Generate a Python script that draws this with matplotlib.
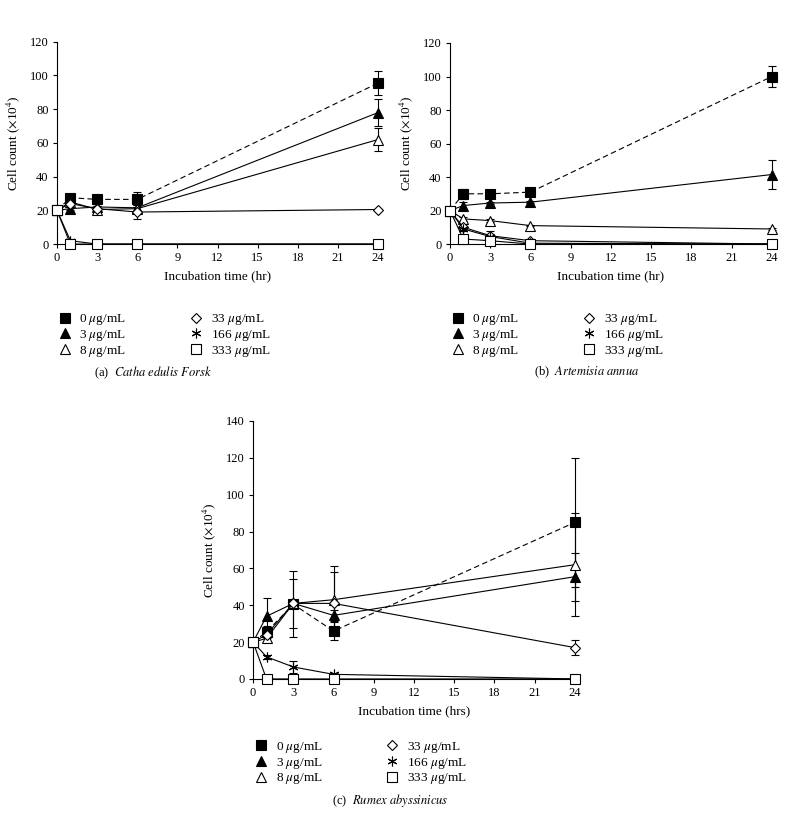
import matplotlib
matplotlib.use("Agg")
import matplotlib.pyplot as plt
from matplotlib.lines import Line2D

plt.rcParams['font.family'] = ['Liberation Serif', 'DejaVu Serif']
plt.rcParams['mathtext.fontset'] = 'stix'
plt.rcParams['font.size'] = 9

# incubation times (hr)
times = [0, 1, 3, 6, 24]
conc_labels = [r"0 $\mu$g/mL", r"3 $\mu$g/mL", r"8 $\mu$g/mL",
               r"33 $\mu$g/mL", r"166 $\mu$g/mL", r"333 $\mu$g/mL"]

# (a) Catha edulis Forsk
a_0 = [20, 27.5, 26.5, 26.5, 95.5]
a_3 = [20, 21, 22, 21.5, 78]
a_8 = [20, 25, 20.5, 21, 62]
a_33 = [20, 24, 21, 19, 20.5]
a_166 = [20, 2, 0, 0, 0]
a_333 = [20, 0, 0, 0, 0]
a_err_0 = [0, 1.5, 1.5, 4.5, 7]
a_err_3 = [0, 1, 1.5, 2, 8]
a_err_8 = [0, 1.5, 2, 2, 7]
a_err_33 = [0, 1, 1.5, 4, 0.5]
a_err_166 = [0, 0.5, 0.5, 0.5, 0]
a_err_333 = [0, 0, 0, 0, 0]

# (b) Artemisia annua
b_0 = [20, 30, 30, 31, 100]
b_3 = [20, 23, 24.5, 25, 41.5]
b_8 = [20, 15, 14, 11, 9]
b_33 = [20, 10, 5, 2, 0]
b_166 = [20, 9, 4.5, 0.5, 0]
b_333 = [20, 3, 2, 0, 0]
b_err_0 = [0, 3, 1, 2.5, 6.5]
b_err_3 = [0, 2, 0.5, 0.5, 8.5]
b_err_8 = [0, 1, 1, 0.5, 0.5]
b_err_33 = [0, 1, 1, 0.5, 0]
b_err_166 = [0, 1, 3, 0.5, 0]
b_err_333 = [0, 0.5, 0.5, 0, 0]

# (c) Rumex abyssinicus
c_0 = [20, 25.5, 40.5, 26, 85]
c_3 = [20, 34, 41, 34.5, 55.5]
c_8 = [20, 22, 41, 43, 62]
c_33 = [20, 24, 41, 41, 17]
c_166 = [20, 12, 6.5, 2.5, 0]
c_333 = [20, 0, 0, 0, 0]
c_err_0 = [0, 3, 18, 5, 35]
c_err_3 = [0, 10, 13.5, 3, 13]
c_err_8 = [0, 2, 2, 18.5, 28]
c_err_33 = [0, 2, 2, 17, 4]
c_err_166 = [0, 1, 3.5, 1, 0]
c_err_333 = [0, 0, 0, 0, 0]

# marker styles for 0, 3, 8, 33, 166, 333 ug/mL
styles = [
    dict(marker='s', mfc='black', ls='--', ms=7),
    dict(marker='^', mfc='black', ls='-', ms=7),
    dict(marker='^', mfc='white', ls='-', ms=7),
    dict(marker='D', mfc='white', ls='-', ms=5.5),
    dict(marker=(6, 2, 0), mfc='black', ls='-', ms=7),
    dict(marker='s', mfc='white', ls='-', ms=7),
]


def draw_panel(fig, rect, series, errs, ymax, xlabel, caption, leg_y, cap_x):
    ax = fig.add_axes(rect)
    for vals, err, st in zip(series, errs, styles):
        lines = ax.errorbar(times, vals, yerr=err, color='black', mec='black',
                            lw=0.8, mew=0.8, capsize=3, elinewidth=0.8,
                            clip_on=False, zorder=3, **st)
        if st['ls'] == '--':
            lines[0].set_dashes((5, 3))
    ax.set_xlim(0, 24)
    ax.set_ylim(0, ymax)
    ax.set_xticks(range(0, 25, 3))
    ax.set_yticks(range(0, ymax + 1, 20))
    for s in ['top', 'right']:
        ax.spines[s].set_visible(False)
    ax.spines['left'].set_linewidth(0.8)
    ax.spines['bottom'].set_linewidth(0.8)
    ax.tick_params(direction='out', length=3, width=0.8, labelsize=9, pad=3)
    ax.set_xlabel(xlabel, fontsize=9.5, labelpad=4)
    ax.set_ylabel(r"Cell count ($\times$10$^4$)", fontsize=9.5, labelpad=6)

    handles = [Line2D([], [], color='black', mec='black', linestyle='none',
                      marker=st['marker'], mfc=st['mfc'], ms=st['ms'], mew=0.8)
               for st in styles]
    fig.legend(handles, conc_labels, ncol=2, frameon=False, fontsize=9.5,
               loc='upper left', bbox_to_anchor=(rect[0] - 0.005, leg_y),
               handlelength=1.0, handletextpad=0.6, columnspacing=4.8,
               labelspacing=0.05, borderaxespad=0)
    fig.text(cap_x, leg_y - 0.07, caption, ha='center', va='top', fontsize=9)
    return ax


fig = plt.figure(figsize=(7.86, 8.19), dpi=100)

draw_panel(fig, [0.0725, 0.702, 0.4085, 0.247], [a_0, a_3, a_8, a_33, a_166, a_333],
           [a_err_0, a_err_3, a_err_8, a_err_33, a_err_166, a_err_333], 120,
           "Incubation time (hr)", r"(a)  $\mathit{Catha\ edulis\ Forsk}$", 0.625, 0.195)
draw_panel(fig, [0.5725, 0.702, 0.4095, 0.2455], [b_0, b_3, b_8, b_33, b_166, b_333],
           [b_err_0, b_err_3, b_err_8, b_err_33, b_err_166, b_err_333], 120,
           "Incubation time (hr)", r"(b)  $\mathit{Artemisia\ annua}$", 0.625, 0.747)
draw_panel(fig, [0.322, 0.171, 0.4095, 0.315], [c_0, c_3, c_8, c_33, c_166, c_333],
           [c_err_0, c_err_3, c_err_8, c_err_33, c_err_166, c_err_333], 140,
           "Incubation time (hrs)", r"(c)  $\mathit{Rumex\ abyssinicus}$", 0.103, 0.497)

fig.savefig("out.png", dpi=100)
